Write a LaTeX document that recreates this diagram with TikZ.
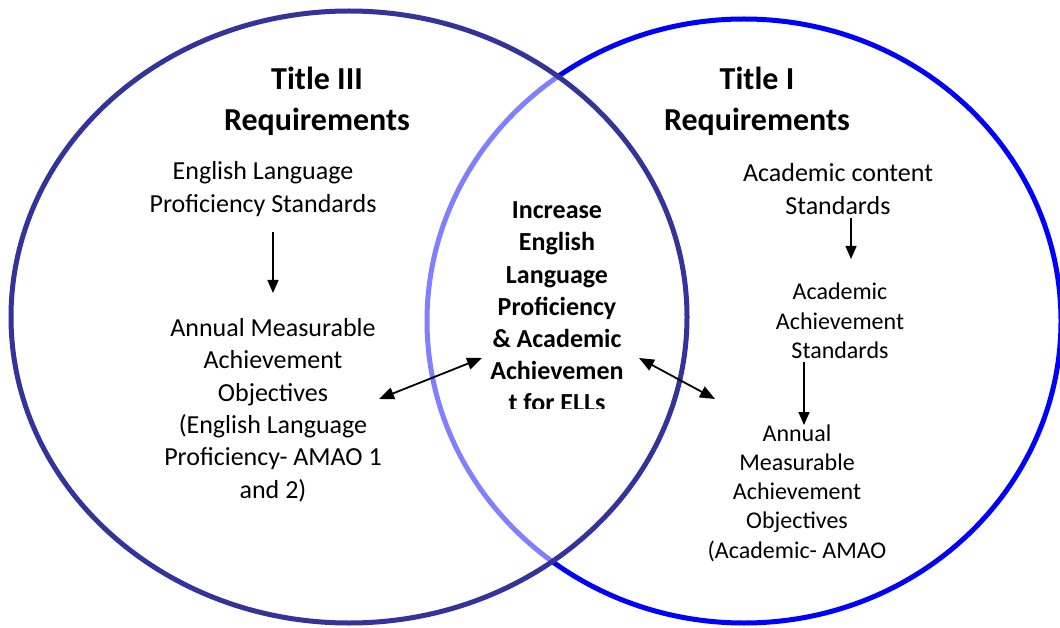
\documentclass[tikz,border=0pt]{standalone}
\usepackage{fontspec}
\setmainfont{Carlito}
\usetikzlibrary{arrows.meta}
\definecolor{leftring}{RGB}{51,51,153}
\definecolor{rightring}{RGB}{0,0,255}
\begin{document}
\begin{tikzpicture}[x=1pt,y=-1pt,
  ring/.style={line width=5pt},
  txt/.style={align=center,inner sep=0pt,font=\fontsize{26}{32.4}\selectfont},
  small/.style={align=center,inner sep=0pt,font=\fontsize{24}{29.3}\selectfont},
  ttl/.style={align=center,inner sep=0pt,font=\bfseries\fontsize{32}{41}\selectfont},
  mid/.style={align=center,inner sep=0pt,font=\bfseries\fontsize{26}{32.2}\selectfont},
  down/.style={line width=1.5pt,-{Triangle[length=13pt,width=11pt]}},
  both/.style={line width=1.8pt,{Triangle[length=15pt,width=12pt]}-{Triangle[length=15pt,width=12pt]}}]
\useasboundingbox (0,0) rectangle (1060,628);
\fill[white] (0,0) rectangle (1060,628);
% rings
\draw[ring,rightring] (744,321) ellipse [x radius=317,y radius=302];
\fill[white,fill opacity=0.5] (349,317) ellipse [x radius=338,y radius=306];
\draw[ring,leftring] (349,317) ellipse [x radius=338,y radius=306];
% titles
\node[ttl] (t3) at (317,101) {Title III\\Requirements};
\node[ttl] (t1) at (757,101) {Title I\\Requirements};
% left column
\node[txt] (elps) at (263,189) {English Language\\Proficiency Standards};
\node[txt] (amaol) at (273,410) {Annual Measurable\\Achievement\\Objectives\\(English Language\\Proficiency- AMAO 1\\and 2)};
% right column
\node[txt,font=\fontsize{26}{33}\selectfont] (acs) at (838,189.5) {Academic content\\Standards};
\node[small] (aas) at (840,321) {Academic\\Achievement\\Standards};
\node[small] (amaor) at (797,493) {Annual\\Measurable\\Achievement\\Objectives\\(Academic- AMAO};
% centre
\begin{scope}
\clip (400,150) rectangle (720,408);
\node[mid] (goal) at (557,307) {Increase\\English\\Language\\Proficiency\\\& Academic\\Achievemen\\t for ELLs};
\end{scope}
% arrow end points
\coordinate (a1) at (273,232);
\coordinate (a2) at (273,293);
\coordinate (b1) at (851,218);
\coordinate (b2) at (851,259);
\coordinate (c1) at (804,362);
\coordinate (c2) at (804,425);
\coordinate (d1) at (379,399);
\coordinate (d2) at (482,358);
\coordinate (e1) at (639,358);
\coordinate (e2) at (715,399);
\draw[down] (a1) -- (a2);
\draw[down] (b1) -- (b2);
\draw[down] (c1) -- (c2);
\draw[both] (d1) -- (d2);
\draw[both] (e1) -- (e2);
\end{tikzpicture}
\end{document}
